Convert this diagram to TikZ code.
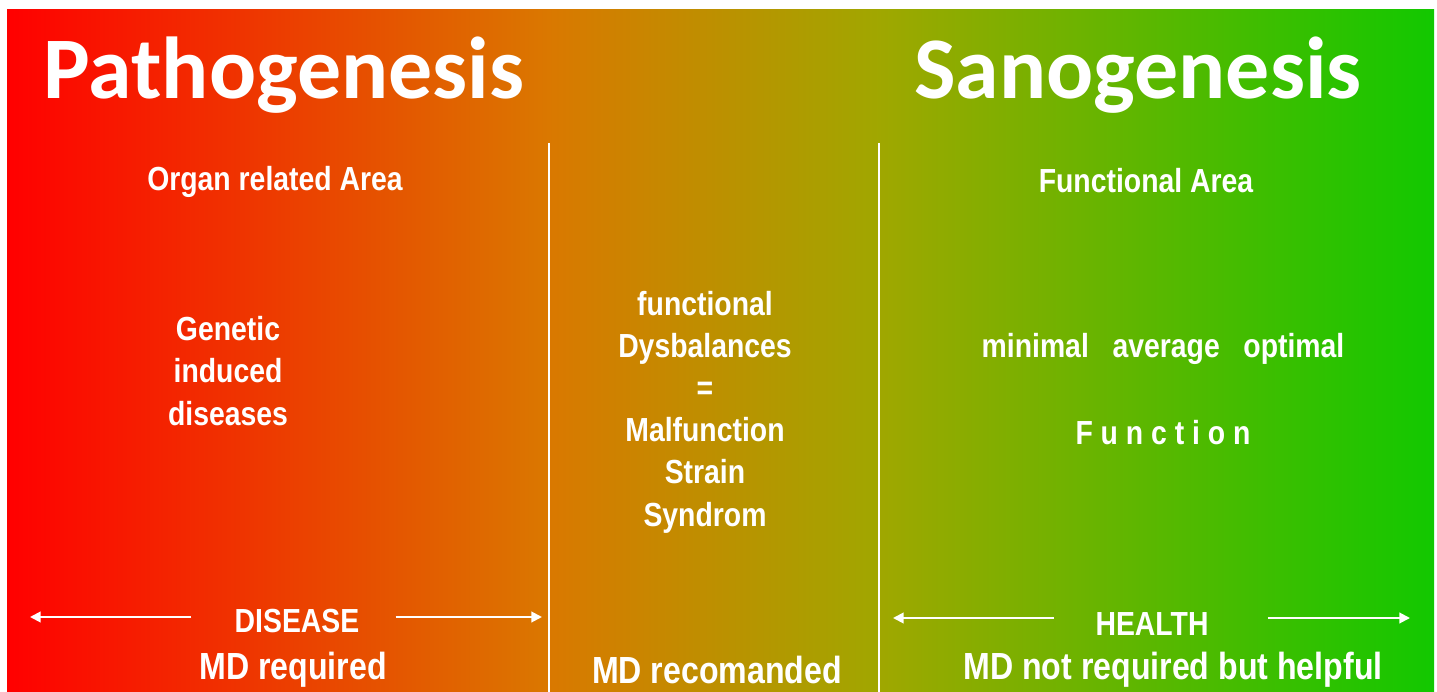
\documentclass[tikz,border=0pt]{standalone}
\usepackage{fontspec}
\setmainfont{Liberation Sans}
\newfontfamily\titlefont{Carlito}
\newfontfamily\narrowfont[FakeStretch=0.85]{Liberation Sans}
\usetikzlibrary{arrows.meta, positioning}

\definecolor{pathred}{RGB}{255,0,0}
\definecolor{midorange}{RGB}{218,120,0}
\definecolor{midolive}{RGB}{160,167,0}
\definecolor{sanogreen}{RGB}{18,200,0}

\begin{document}
\begin{tikzpicture}[x=0.02cm, y=-0.02cm,
    title/.style  = {text=white, inner sep=0pt,
      font=\titlefont\bfseries\fontsize{50}{54}\selectfont},
    area/.style   = {text=white, inner sep=0pt, align=center,
      font=\narrowfont\bfseries\fontsize{19}{24}\selectfont},
    big/.style    = {area, font=\narrowfont\bfseries\fontsize{21.5}{26}\selectfont},
    divider/.style= {white, line width=0.9pt},
    arr/.style    = {white, line width=1.1pt,
      -{Triangle[length=6pt,width=6pt]}},
  ]
  % background
  \useasboundingbox[fill=white] (0,0) rectangle (1437,692);
  \fill[left color=pathred, right color=midorange] (7,10) rectangle (549,692);
  \fill[left color=midorange, right color=midolive] (548,10) rectangle (880,692);
  \fill[left color=midolive, right color=sanogreen] (879,10) rectangle (1434,692);

  \node[title] (patho) at (284,75) {Pathogenesis};
  \node[title] (sano) at (1138,75) {Sanogenesis};

  \draw[divider] (549,143) coordinate (divA) -- (549,692);
  \draw[divider] (879,143) coordinate (divB) -- (879,692);

  % organ related side
  \node[area] (organ) at (275,182) {Organ related Area};
  \node[area] (genetic) at (228,371) {Genetic\\induced\\diseases};

  % middle
  \node[area] (dysbal) at (705,412) {functional\\Dysbalances\\=\\Malfunction\\Strain\\Syndrom};

  % functional side
  \node[area] (funcarea) at (1146,181) {Functional Area};
  \node[area] (levels) at (1163,349) {minimal\ \ \ average\ \ \ optimal};
  \node[area] (function) at (1163,433) {F\ u\ n\ c\ t\ i\ o\ n};

  % bottom row
  \node[area] (disease) at (297,621) {DISEASE};
  \node[area] (health) at (1152,624) {HEALTH};
  \node[big] (mdreq) at (293,670) {MD required};
  \node[big] (mdrec) at (717,670) {MD recomanded};
  \node[big] (mdnot) at (1173,670) {MD not required but helpful};

  \coordinate (disL) at (30,617);
  \coordinate (disR) at (542,617);
  \coordinate (heaL) at (893,618);
  \coordinate (heaR) at (1410,618);
  \draw[arr] (disease.west) ++(-43,-4) -- (disL);
  \draw[arr] (disease.east) ++(36,-4) -- (disR);
  \draw[arr] (health.west) ++(-41,-6) -- (heaL);
  \draw[arr] (health.east) ++(59,-6) -- (heaR);
\end{tikzpicture}
\end{document}
